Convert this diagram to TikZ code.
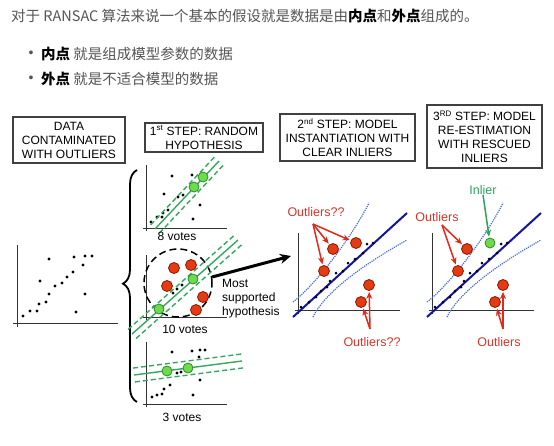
\documentclass[tikz,border=0pt]{standalone}
\usepackage{fontspec}
\setmainfont{Liberation Sans}
\newfontfamily\cjk{Noto Sans CJK SC}
\usetikzlibrary{arrows, arrows.meta, calc, decorations.pathreplacing}
\definecolor{txtgray}{HTML}{555555}
\definecolor{boxgray}{HTML}{404040}
\definecolor{outred}{HTML}{E63A12}
\definecolor{outedge}{HTML}{8B1A00}
\definecolor{ingreen}{HTML}{6EDB4A}
\definecolor{inedge}{HTML}{2E8B2E}
\definecolor{fitgreen}{HTML}{35A860}
\definecolor{modelblue}{HTML}{1414A0}
\definecolor{confblue}{HTML}{4A6FE0}
\definecolor{arrred}{HTML}{E02A1E}
\definecolor{lblred}{HTML}{D4352B}
\definecolor{lblgreen}{HTML}{2EA35A}
\tikzset{
    stepbox/.style={draw=boxgray, line width=1.1pt, align=center, inner sep=1pt, font=\fontsize{12}{14}\selectfont}, % the step titles
    axis/.style={draw=black!80, line width=1pt},
    outl/.style={circle, draw=outedge, fill=outred, line width=0.8pt, minimum size=11pt, inner sep=0pt},
    inl/.style={circle, draw=inedge, fill=ingreen, line width=0.8pt, minimum size=10pt, inner sep=0pt},
    hypline/.style={draw=fitgreen, line width=1.4pt},
    band/.style={hypline, dash pattern=on 5pt off 3pt},
    model/.style={draw=modelblue, line width=2pt},
    conf/.style={draw=confblue, line width=1.2pt, densely dotted},
    redarrow/.style={draw=arrred, line width=1.5pt, -{Stealth[length=7pt, width=6pt]}, shorten >=1pt},
    lbl/.style={font=\fontsize{12}{14}\selectfont, inner sep=0pt},
    outtext/.style={font=\fontsize{12.5}{14}\selectfont, text=lblred, inner sep=0pt},
}
\begin{document}
\begin{tikzpicture}[x=1pt, y=-1pt]
    \useasboundingbox[fill=white] (0,0) rectangle (554,445);

    % Text on top
    \node[anchor=west, inner sep=0pt, text=txtgray, font=\cjk\fontsize{14.5}{16}\selectfont] (title) at (11,16)
        {对于 RANSAC 算法来说一个基本的假设就是数据是由\textbf{\color{black}内点}和\textbf{\color{black}外点}组成的。};
    \node[text=txtgray, inner sep=0pt, font=\fontsize{14}{16}\selectfont] (b1) at (31,54) {\textbullet};
    \node[text=txtgray, inner sep=0pt, font=\fontsize{14}{16}\selectfont] (b2) at (31,79) {\textbullet};
    \node[anchor=west, inner sep=0pt, text=txtgray, font=\cjk\fontsize{14.5}{16}\selectfont] (in1) at (41,54)
        {\textbf{\color{black}内点} 就是组成模型参数的数据};
    \node[anchor=west, inner sep=0pt, text=txtgray, font=\cjk\fontsize{14.5}{16}\selectfont] (out1) at (41,79)
        {\textbf{\color{black}外点} 就是不适合模型的数据};

    % Step boxes
    \node[stepbox, minimum width=112pt, minimum height=46pt] (data) at (69,140) {DATA\\CONTAMINATED\\WITH OUTLIERS};
    \node[stepbox, minimum width=118pt, minimum height=29pt] (st1) at (204,137.5) {1\textsuperscript{st} STEP: RANDOM\\HYPOTHESIS};
    \node[stepbox, minimum width=135pt, minimum height=47pt] (st2) at (347.5,137.5) {2\textsuperscript{nd} STEP: MODEL\\INSTANTIATION WITH\\CLEAR INLIERS};
    \node[stepbox, minimum width=115pt, minimum height=63pt] (st3) at (484.5,136.5) {3\textsuperscript{RD} STEP: MODEL\\RE-ESTIMATION\\WITH RESCUED\\INLIERS};

    % Data
    \draw[axis] (17,245) -- (17,327);
    \draw[axis] (13,323) -- (118,323);
    \foreach \p in {(49,259),(74,257),(85,256),(92,256),(83,265),(73,272),(67,277),(62,283),(55,286),
                    (40,281),(49,294),(46,302),(39,304),(37,311),(30,311),(23,316),(85,294),(76,312)}
        \fill \p circle (1.7pt);

    % Brace
    \draw[line width=1.8pt, decorate, decoration={brace, amplitude=14pt, aspect=0.51}] (137,402) -- (137,170);

    % Hypothesis 1
    \draw[axis] (146,165) -- (146,231);
    \draw[axis] (143,228) -- (227,228);
    \foreach \p in {(172,176),(192,175),(164,194),(178,197),(183,195),(200,205),(168,210),(163,213),
                    (157,217),(162,217),(151,222),(193,219)}
        \fill \p circle (1.6pt);
    \coordinate (a1) at (155,229);
    \coordinate (a2) at (219,161);
    \draw[hypline] (a1) -- (a2);
    \draw[band] ($(a1)!6pt!90:(a2)$) -- ($(a2)!6pt!-90:(a1)$);
    \draw[band] ($(a1)!6pt!-90:(a2)$) -- ($(a2)!6pt!90:(a1)$);
    \node[inl] (h11) at (194,187) {};
    \node[inl] (h12) at (203,177) {};
    \node[lbl] (v8) at (177,236) {8 votes};

    % Hypothesis 2
    \draw[axis] (146,255) -- (146,320);
    \draw[axis] (143,317) -- (227,317);
    \node[circle, draw, dash pattern=on 7pt off 4pt, line width=1.5pt, minimum size=68pt, inner sep=0pt] (hyp) at (178,283) {};
    \coordinate (b1) at (132,334);
    \coordinate (b2) at (238,240);
    \draw[hypline] (b1) -- (b2);
    \draw[band] ($(b1)!6pt!90:(b2)$) -- ($(b2)!6pt!-90:(b1)$);
    \draw[band] ($(b1)!6pt!-90:(b2)$) -- ($(b2)!6pt!90:(b1)$);
    \foreach \p in {(182,285),(177,289),(173,293)}
        \fill \p circle (1.6pt);
    \node[outl] (r1) at (174,268) {};
    \node[outl] (r2) at (191,265) {};
    \node[outl] (r3) at (167,286) {};
    \node[outl] (r4) at (203,297) {};
    \node[outl] (r5) at (196,310) {};
    \node[inl] (h21) at (193,279) {};
    \node[inl] (h22) at (159,309) {};
    \node[lbl] (v10) at (185,329) {10 votes};
    \node[lbl, anchor=west, align=left] (most) at (222,299) {Most\\supported\\hypothesis};
    \coordinate (tip) at (291,256);
    \draw[line width=3pt, -{Stealth[length=11pt, width=10pt]}] (hyp.10) -- (tip);

    % Hypothesis 3
    \draw[axis] (146,342) -- (146,407);
    \draw[axis] (143,404) -- (227,404);
    \foreach \p in {(172,352),(192,351),(200,350),(205,350),(199,357),(177,373),(181,372),(200,380),
                    (170,385),(164,389),(152,397),(157,395),(162,394),(193,395)}
        \fill \p circle (1.6pt);
    \coordinate (c1) at (134,375);
    \coordinate (c2) at (242,361);
    \draw[hypline] (c1) -- (c2);
    \draw[band] ($(c1)!7pt!90:(c2)$) -- ($(c2)!7pt!-90:(c1)$);
    \draw[band] ($(c1)!7pt!-90:(c2)$) -- ($(c2)!7pt!90:(c1)$);
    \node[inl] (h31) at (167,371) {};
    \node[inl] (h32) at (188,368) {};
    \node[lbl] (v3) at (182,417) {3 votes};

    % Model (2nd step) and re-estimated model (3rd step)
    \foreach \sx/\nm/\st in {0/d/outl, 134/e/inl} {
        \begin{scope}[xshift=\sx]
            \draw[axis] (298,233) -- (298,314);
            \draw[axis] (295,310) -- (400,310);
            \draw[conf] (293,302) .. controls (315,285) and (350,240) .. (369,203);
            \draw[conf] (313,317) .. controls (322,298) and (350,272) .. (407,240);
            \draw[model] (293,317) -- (407,213);
            \foreach \p in {(301,307),(309,302),(316,297),(321,291),(327,287),(330,281),(336,273),
                            (343,271),(348,263),(355,259),(363,253),(367,244),(373,243)}
                \fill \p circle (1.5pt);
            \node[outl] (\nm1) at (333,249) {};
            \node[outl] (\nm2) at (324,271) {};
            \node[outl] (\nm3) at (369,285) {};
            \node[outl] (\nm4) at (361,302) {};
            \node[\st] (\nm5) at (356,243) {};
        \end{scope}
    }

    % Labels of the 2nd step
    \node[outtext] (oq1) at (316,212) {Outliers??};
    \coordinate (ja) at (313,224);
    \draw[redarrow] (ja) -- (d1);
    \draw[redarrow] (ja) -- (d2);
    \draw[redarrow] (ja) -- (d5);
    \node[outtext] (oq2) at (372,342) {Outliers??};
    \coordinate (jb) at (370,329);
    \draw[redarrow] (jb) -- (d3);
    \draw[redarrow] (jb) -- (d4);

    % Labels of the 3rd step
    \node[outtext] (o1) at (437,217) {Outliers};
    \coordinate (jc) at (442,225);
    \draw[redarrow] (jc) -- (e1);
    \draw[redarrow] (jc) -- (e2);
    \node[outtext] (o2) at (499,342) {Outliers};
    \coordinate (jd) at (503,329);
    \draw[redarrow] (jd) -- (e3);
    \draw[redarrow] (jd) -- (e4);
    \node[outtext, text=lblgreen] (il) at (483,190) {Inlier};
    \draw[redarrow, draw=lblgreen, fill=lblgreen] (il.south) -- (e5);
\end{tikzpicture}
\end{document}
